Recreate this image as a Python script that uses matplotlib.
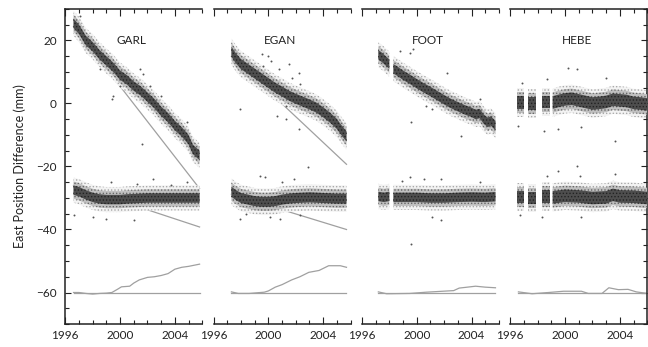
import numpy as np
import matplotlib.pyplot as plt
from matplotlib.ticker import MultipleLocator

plt.rcParams['font.family'] = ['Lato', 'DejaVu Sans']
plt.rcParams['hatch.linewidth'] = 0.6

stations = ['GARL', 'EGAN', 'FOOT', 'HEBE']

# upper cloud: raw east difference (mm), centre of the dense band
garl_up_t = [1996.6, 1997.0, 1997.5, 1998.0, 1998.5, 1999.0, 1999.5, 2000.0, 2000.5, 2001.0,
             2001.5, 2002.0, 2002.5, 2003.0, 2003.5, 2004.0, 2004.5, 2005.0, 2005.3, 2005.8]
garl_up = [25.5, 23.5, 20.0, 18.0, 15.5, 13.5, 11.5, 9.0, 7.5, 5.5,
           4.0, 2.0, 0.0, -2.5, -4.5, -7.0, -9.0, -11.5, -14.5, -16.5]
egan_up_t = [1997.3, 1997.6, 1998.0, 1998.5, 1999.0, 1999.5, 2000.0, 2000.5, 2001.0, 2001.5,
             2002.0, 2002.5, 2003.0, 2003.5, 2004.0, 2004.5, 2005.0, 2005.3, 2005.7]
egan_up = [16.5, 14.5, 12.5, 11.0, 9.5, 8.0, 6.5, 5.0, 3.8, 2.5,
           1.5, 0.6, -0.3, -1.3, -2.8, -4.5, -6.5, -8.3, -10.5]
foot_up_t = [1997.2, 1997.5, 1998.0, 1998.15, 1998.3, 1998.5, 1999.0, 1999.5, 2000.0, 2000.5,
             2001.0, 2001.5, 2002.0, 2002.5, 2003.0, 2003.5, 2004.0, 2004.3, 2004.6, 2004.9,
             2005.2, 2005.4, 2005.75]
foot_up = [15.5, 14.5, 12.5, np.nan, 11.0, 10.5, 9.0, 7.7, 6.3, 5.0,
           3.8, 2.5, 1.2, 0.0, -1.0, -2.0, -2.8, -3.5, -3.2, -5.0,
           -6.0, -5.5, -7.0]
hebe_up_t = [1996.5, 1997.0, 1997.15, 1997.3, 1997.9, 1998.1, 1998.3, 1998.9, 1999.0, 1999.1,
             1999.5, 2000.0, 2000.5, 2001.0, 2001.5, 2002.0, 2002.5, 2003.0, 2003.5, 2004.0,
             2004.5, 2005.0, 2005.5, 2006.0]
hebe_up = [0.3, 0.3, np.nan, 0.0, 0.0, np.nan, 0.5, 0.5, np.nan, 0.3,
           0.8, 1.3, 1.5, 1.0, 0.5, 0.0, 0.2, 0.5, 1.2, 1.0,
           0.8, 0.2, 0.0, -0.3]

# lower cloud: residuals (offset to -30 mm)
garl_lo_t = [1996.6, 1997.0, 1997.5, 1998.0, 1998.5, 1999.0, 1999.5, 2000.0, 2000.5, 2001.0,
             2002.0, 2003.0, 2004.0, 2005.0, 2005.8]
garl_lo = [-27.5, -28.0, -29.0, -29.8, -30.3, -30.5, -30.5, -30.5, -30.3, -30.2,
           -30.0, -30.0, -30.0, -30.0, -30.0]
egan_lo_t = [1997.3, 1997.6, 1998.0, 1998.5, 1999.0, 1999.5, 2000.0, 2000.5, 2001.0, 2001.5,
             2002.0, 2003.0, 2004.0, 2005.0, 2005.7]
egan_lo = [-28.0, -29.0, -30.0, -30.5, -31.0, -31.2, -31.2, -31.0, -30.5, -30.2,
           -30.0, -29.8, -30.0, -30.2, -30.2]
foot_lo_t = [1997.2, 1997.6, 1998.0, 1998.15, 1998.3, 1999.0, 2000.0, 2001.0, 2002.0, 2003.0,
             2004.0, 2005.0, 2005.75]
foot_lo = [-29.5, -29.8, -29.5, np.nan, -29.8, -29.8, -29.8, -30.0, -30.0, -29.8,
           -29.7, -29.8, -29.6]
hebe_lo_t = [1996.5, 1997.0, 1997.15, 1997.3, 1997.9, 1998.1, 1998.3, 1998.9, 1999.0, 1999.1,
             2000.0, 2001.0, 2002.0, 2003.0, 2003.5, 2004.0, 2005.0, 2005.5, 2006.0]
hebe_lo = [-29.7, -29.7, np.nan, -30.0, -30.0, np.nan, -29.5, -29.5, np.nan, -29.8,
           -29.3, -29.5, -30.0, -29.8, -29.0, -29.5, -29.6, -29.8, -30.0]

# scattered points outside the dense band
garl_out_t = [1997.1, 1998.5, 1999.4, 2000.0, 2001.45, 2001.7, 2002.2, 2003.0, 2004.9, 2001.6, 1999.5,
              1999.3, 2001.2, 2002.4, 2003.7, 2004.9, 1999.0, 2001.0, 1996.6, 1998.0]
garl_out = [27.7, 10.8, 1.4, 5.6, 10.8, 9.3, 5.6, 2.4, -6.0, -12.9, 2.4,
            -25.0, -25.5, -23.9, -26.0, -24.9, -36.6, -37.1, -35.5, -36.0]
egan_out_t = [1999.5, 2000.0, 2000.2, 1999.6, 2000.8, 2001.5, 2001.7, 2002.2, 2002.3, 1997.9,
              2000.6, 2001.3, 2002.2, 2001.3,
              1999.4, 1999.75, 2002.9, 2001.9, 2001.0, 1997.9, 2000.85, 1998.4, 2002.3, 2000.1]
egan_out = [15.6, 15.0, 13.5, 11.9, 10.8, 12.4, 8.2, 9.8, 6.1, -1.8,
            -3.9, -5.0, -8.1, -0.8,
            -22.9, -23.4, -20.2, -23.9, -24.9, -36.6, -36.6, -35.0, -35.5, -36.0]
foot_out_t = [1999.5, 1999.75, 1998.8, 2002.2, 1999.6, 2003.2, 2000.7, 2001.1, 2004.6,
              1999.5, 2001.8, 1999.6, 2001.1, 2001.8, 2004.6, 1998.9, 2000.5]
foot_out = [16.1, 17.2, 16.6, 9.8, -6.0, -10.2, -0.8, -1.8, 1.4,
            -23.4, -23.9, -44.5, -36.0, -37.1, -24.9, -24.5, -24.0]
hebe_out_t = [2000.2, 2000.85, 2003.0, 1996.85, 1998.7, 1996.6, 1998.5, 1999.5, 2001.2, 2003.65,
              2000.85, 1999.5, 1998.7, 2001.1, 2003.65, 1996.7, 1998.3, 2001.2]
hebe_out = [11.4, 10.8, 8.2, 6.6, 7.7, -7.1, -8.7, -8.1, -7.6, -11.8,
            -19.7, -21.3, -22.9, -22.9, -22.3, -35.5, -36.0, -36.0]

# half widths of the dense core and the sparse halo (mm)
core_hw = [1.5, 1.6, 1.5, 2.0]
halo_hw = [4.0, 4.2, 4.0, 4.5]

# grey straight-line fits (start / end)
garl_fit_t = [1996.6, 2005.8]
garl_fit_up = [24.5, -27.0]
garl_fit_lo = [-26.0, -39.2]
egan_fit_t = [1997.3, 2005.7]
egan_fit_up = [15.0, -19.3]
egan_fit_lo = [-28.8, -40.0]

# bottom curves (offset to -60 mm)
garl_bot_t = [1996.6, 1997.0, 1997.5, 1998.0, 1998.5, 1999.0, 1999.4, 1999.8, 2000.1, 2000.7,
              2001.0, 2001.4, 2002.0, 2002.5, 2003.0, 2003.5, 2004.0, 2004.5, 2005.0, 2005.8]
garl_bot = [-60.0, -60.0, -60.3, -60.5, -60.3, -60.2, -60.0, -59.0, -58.2, -58.0,
            -57.0, -56.0, -55.2, -55.0, -54.6, -54.0, -52.6, -52.0, -51.7, -51.0]
egan_bot_t = [1997.3, 1997.8, 1998.6, 1999.7, 2000.0, 2000.5, 2001.0, 2001.7, 2002.3, 2002.95,
              2003.7, 2004.4, 2005.25, 2005.7]
egan_bot = [-59.8, -60.3, -60.3, -59.9, -59.5, -58.3, -57.5, -56.0, -55.0, -53.6,
            -53.0, -51.5, -51.5, -52.0]
foot_bot_t = [1997.2, 1997.8, 1999.5, 2000.7, 2001.9, 2002.7, 2003.1, 2004.3, 2005.0, 2005.75]
foot_bot = [-59.8, -60.4, -60.3, -59.9, -59.6, -59.4, -58.6, -58.0, -58.3, -58.5]
hebe_bot_t = [1996.6, 1997.6, 1998.8, 1999.9, 2001.2, 2001.7, 2002.7, 2003.2, 2003.9, 2004.6,
              2005.2, 2006.0]
hebe_bot = [-59.8, -60.4, -60.0, -59.6, -59.6, -60.3, -60.3, -58.5, -59.1, -59.0,
            -59.8, -60.3]

up_t = [garl_up_t, egan_up_t, foot_up_t, hebe_up_t]
up = [garl_up, egan_up, foot_up, hebe_up]
lo_t = [garl_lo_t, egan_lo_t, foot_lo_t, hebe_lo_t]
lo = [garl_lo, egan_lo, foot_lo, hebe_lo]
out_t = [garl_out_t, egan_out_t, foot_out_t, hebe_out_t]
out = [garl_out, egan_out, foot_out, hebe_out]
bot_t = [garl_bot_t, egan_bot_t, foot_bot_t, hebe_bot_t]
bot = [garl_bot, egan_bot, foot_bot, hebe_bot]
fits = {0: (garl_fit_t, garl_fit_up, garl_fit_lo), 1: (egan_fit_t, egan_fit_up, egan_fit_lo)}


def band(ax, t, c, core, halo):
    # dense cloud of daily points drawn as a speckled band
    t = np.array(t)
    c = np.array(c, dtype=float)
    ax.fill_between(t, c - halo, c + halo, facecolor='#f3f3f3', edgecolor='#a8a8a8',
                    hatch='.....', lw=0, zorder=2)
    mid = (core + halo) / 2
    ax.fill_between(t, c - mid, c + mid, facecolor='#c0c0c0', edgecolor='#666666',
                    hatch='.....', lw=0, zorder=3)
    ax.fill_between(t, c - core, c + core, facecolor='#4e4e4e', edgecolor='#222222',
                    hatch='.....', lw=0, zorder=4)


W, H = 648, 347
fig = plt.figure(figsize=(W / 100, H / 100), dpi=100)
lefts = [65.3, 213.6, 361.9, 510.2]
gray = '#a0a0a0'

for i, name in enumerate(stations):
    ax = fig.add_axes([lefts[i] / W, 23 / H, 137 / W, 315 / H])
    if i in fits:
        ft, fu, fl = fits[i]
        ax.plot(ft, fu, color=gray, lw=0.9, zorder=1)
        ax.plot(ft, fl, color=gray, lw=0.9, zorder=1)
    band(ax, up_t[i], up[i], core_hw[i], halo_hw[i])
    band(ax, lo_t[i], lo[i], core_hw[i], halo_hw[i])
    ax.scatter(out_t[i], out[i], s=2.0, color='#555555', lw=0, zorder=5)
    ax.plot(bot_t[i], bot[i], color=gray, lw=0.9)
    ax.plot([bot_t[i][0], bot_t[i][-1]], [-60, -60], color=gray, lw=0.9)
    ax.text(2000.85, 20, name, ha='center', va='center', fontsize=8.5, color='#222222')

    ax.set_xlim(1996, 2006)
    ax.set_ylim(-70, 30)
    ax.xaxis.set_major_locator(MultipleLocator(4))
    ax.xaxis.set_minor_locator(MultipleLocator(1))
    ax.yaxis.set_major_locator(MultipleLocator(20))
    ax.yaxis.set_minor_locator(MultipleLocator(5))
    ax.tick_params(axis='x', which='both', direction='in', top=True, bottom=True,
                   labelsize=8.5, pad=4, colors='#222222')
    ax.tick_params(axis='x', which='major', length=5, width=0.8)
    ax.tick_params(axis='x', which='minor', length=3, width=0.8)
    ax.tick_params(axis='y', which='both', direction='in', width=0.8, labelsize=8.5,
                   pad=6, colors='#222222', left=(i == 0), right=(i == 3),
                   labelleft=(i == 0))
    ax.tick_params(axis='y', which='major', length=4)
    ax.tick_params(axis='y', which='minor', length=3)
    for s in ax.spines.values():
        s.set_linewidth(1.1)
        s.set_color('#222222')
    ax.spines['left'].set_visible(i == 0)
    ax.spines['right'].set_visible(i == 3)

fig.text(20 / W, 0.52, 'East Position Difference (mm)', rotation=90,
         ha='center', va='center', fontsize=9, color='#222222')

fig.savefig('out.png', dpi=100)
